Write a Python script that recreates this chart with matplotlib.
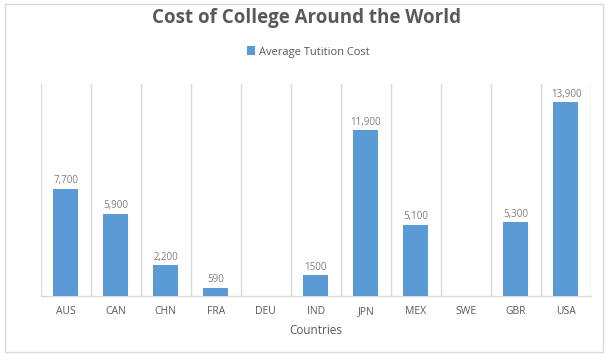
import matplotlib
matplotlib.use("Agg")
import matplotlib.pyplot as plt
from matplotlib.patches import Rectangle

countries = ["AUS", "CAN", "CHN", "FRA", "DEU", "IND", "JPN", "MEX", "SWE", "GBR", "USA"]
tuition = [7700, 5900, 2200, 590, 0, 1500, 11900, 5100, 0, 5300, 13900]
labels = ["7,700", "5,900", "2,200", "590", "", "1500", "11,900", "5,100", "", "5,300", "13,900"]

plt.rcParams['font.family'] = ['Open Sans', 'DejaVu Sans']

W, H = 606, 355
fig = plt.figure(figsize=(W/100, H/100), dpi=100)
fig.patch.set_facecolor("white")
fig.add_artist(Rectangle((5/W, 3/H), 598/W, 348/H, transform=fig.transFigure,
                         fill=False, edgecolor="#D9D9D9", linewidth=1))

ax = fig.add_axes([40.5/W, 59/H, 550.5/W, 212/H])
bar_color = "#5B9BD5"
x = list(range(len(countries)))
bars = ax.bar(x, tuition, width=0.5, color=bar_color, label="Average Tutition Cost", zorder=3)
ax.set_xlim(-0.5, len(countries) - 0.5)
ax.set_ylim(0, 15200)

for xi, v, lab in zip(x, tuition, labels):
    if lab:
        ax.text(xi, v + 180, lab, ha="center", va="bottom", fontsize=7, color="#7F7F7F")

for b in range(len(countries) + 1):
    ax.axvline(b - 0.5, color="#D9D9D9", linewidth=1, zorder=1)

for s in ["top", "right", "left"]:
    ax.spines[s].set_visible(False)
ax.spines["bottom"].set_color("#D9D9D9")
ax.spines["bottom"].set_linewidth(1)
ax.set_yticks([])
ax.set_xticks(x)
ax.set_xticklabels(countries, fontsize=7.5, color="#595959")
ax.tick_params(axis="x", length=0, pad=7)

fig.text(306/W, 1 - 18/H, "Cost of College Around the World", ha="center", va="center",
         fontsize=13.5, fontweight="bold", color="#595959")

fig.legend(handles=[bars], labels=["Average Tutition Cost"], loc="center",
           bbox_to_anchor=(308/W, 1 - 52/H), frameon=False, fontsize=8,
           handlelength=0.8, handleheight=0.8, handletextpad=0.3, labelcolor="#595959")

fig.text(316/W, 1 - 331/H, "Countries", ha="center", va="center", fontsize=8.5, color="#595959")

fig.savefig("out.png", dpi=100)
